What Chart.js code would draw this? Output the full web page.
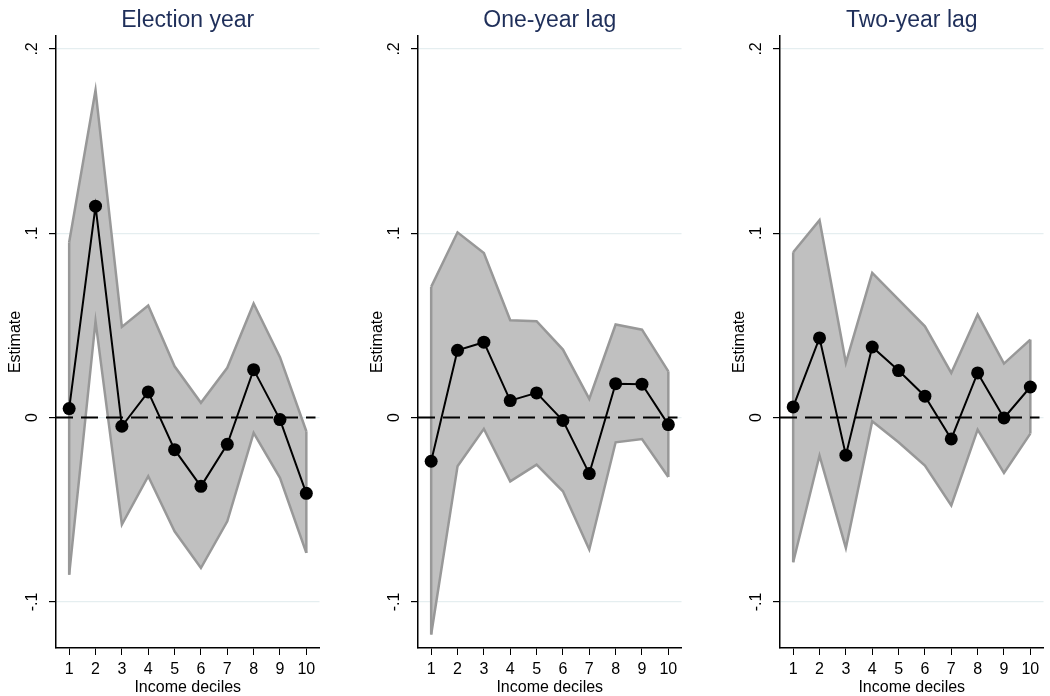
<!DOCTYPE html>
<html>
<head>
<meta charset="utf-8">
<script src="https://cdn.jsdelivr.net/npm/chart.js@4.4.1/dist/chart.umd.min.js"></script>
<style>
  html, body { margin: 0; padding: 0; background: #fff; }
  #wrap { position: relative; width: 1050px; height: 696px; overflow: hidden; }
  .panel { position: absolute; top: 0; width: 326px; height: 696px; }
</style>
</head>
<body>
<div id="wrap">
  <div class="panel" style="left:0px"><canvas id="c1"></canvas></div>
  <div class="panel" style="left:362px"><canvas id="c2"></canvas></div>
  <div class="panel" style="left:724px"><canvas id="c3"></canvas></div>
</div>
<script>
// income deciles on the x axis
var deciles = ['1', '2', '3', '4', '5', '6', '7', '8', '9', '10'];
var yTicks = [-0.1, 0, 0.1, 0.2];
var yTickLabels = ['-.1', '0', '.1', '.2'];
var titles = ['Election year', 'One-year lag', 'Two-year lag'];

// Election year
var est0 = [0.0049, 0.1147, -0.0047, 0.0139, -0.0174, -0.0373, -0.0145, 0.0260, -0.0011, -0.0411];
var upr0 = [0.0951, 0.1776, 0.0492, 0.0608, 0.0278, 0.0080, 0.0270, 0.0619, 0.0328, -0.0074];
var lwr0 = [-0.0852, 0.0523, -0.0580, -0.0318, -0.0617, -0.0816, -0.0563, -0.0083, -0.0327, -0.0734];

// One-year lag
var est1 = [-0.0237, 0.0365, 0.0409, 0.0092, 0.0134, -0.0016, -0.0304, 0.0184, 0.0181, -0.0038];
var upr1 = [0.0709, 0.1005, 0.0893, 0.0528, 0.0523, 0.0369, 0.0101, 0.0505, 0.0477, 0.0251];
var lwr1 = [-0.1177, -0.0264, -0.0061, -0.0346, -0.0255, -0.0400, -0.0716, -0.0134, -0.0116, -0.0322];

// Two-year lag
var est2 = [0.0058, 0.0432, -0.0204, 0.0383, 0.0255, 0.0116, -0.0116, 0.0242, -0.0002, 0.0166];
var upr2 = [0.0897, 0.1071, 0.0297, 0.0785, 0.0640, 0.0495, 0.0242, 0.0559, 0.0293, 0.0423];
var lwr2 = [-0.0785, -0.0206, -0.0707, -0.0020, -0.0134, -0.0260, -0.0477, -0.0065, -0.0300, -0.0087];

var FONT = '"Liberation Sans", Arial, sans-serif';
var BAND_LINE = '#989898';

// panel title, rotated y tick labels, band end caps and dashed zero line
var extras = {
  id: 'extras',
  afterDatasetDraw: function(chart, args){
    // once both band edges are down, close the band and add the zero line
    if (args.index !== 0) return;
    var ctx = chart.ctx, a = chart.chartArea, y = chart.scales.y;
    var up = chart.getDatasetMeta(0).data, lo = chart.getDatasetMeta(1).data;
    ctx.save();
    ctx.strokeStyle = BAND_LINE;
    ctx.lineWidth = 2.5;
    [0, up.length - 1].forEach(function(i){
      ctx.beginPath();
      ctx.moveTo(up[i].x, up[i].y);
      ctx.lineTo(lo[i].x, lo[i].y);
      ctx.stroke();
    });
    var y0 = y.getPixelForValue(0);
    ctx.strokeStyle = '#000';
    ctx.lineWidth = 2;
    ctx.setLineDash([17, 8]);
    ctx.beginPath();
    ctx.moveTo(a.left, y0);
    ctx.lineTo(a.right - 4, y0);
    ctx.stroke();
    ctx.restore();
  },
  afterDraw: function(chart){
    var ctx = chart.ctx, a = chart.chartArea, y = chart.scales.y;
    ctx.save();
    ctx.fillStyle = '#1f2f5a';
    ctx.font = '23px ' + FONT;
    ctx.textAlign = 'center';
    ctx.textBaseline = 'alphabetic';
    ctx.fillText(chart.options.plugins.extras.title, (a.left + a.right) / 2, 27);

    ctx.fillStyle = '#000';
    ctx.font = '16px ' + FONT;
    ctx.textBaseline = 'middle';
    yTicks.forEach(function(v, i){
      ctx.save();
      ctx.translate(a.left - 23, y.getPixelForValue(v));
      ctx.rotate(-Math.PI / 2);
      ctx.fillText(yTickLabels[i], 0, 0);
      ctx.restore();
    });
    ctx.restore();
  }
};

function makePanel(id, title, est, upr, lwr){
  var canvas = document.getElementById(id);
  return new Chart(canvas.getContext('2d'), {
    type: 'line',
    data: {
      labels: deciles,
      datasets: [
        { data: upr, borderColor: BAND_LINE, borderWidth: 2.5, backgroundColor: '#c0c0c0',
          fill: '+1', pointRadius: 0, tension: 0, order: 2 },
        { data: lwr, borderColor: BAND_LINE, borderWidth: 2.5, backgroundColor: '#c0c0c0',
          fill: false, pointRadius: 0, tension: 0, order: 2 },
        { data: est, borderColor: '#000', borderWidth: 2, backgroundColor: '#000',
          pointRadius: 6.5, pointBackgroundColor: '#000', pointBorderWidth: 0,
          fill: false, tension: 0, order: 1 }
      ]
    },
    options: {
      responsive: false,
      animation: false,
      layout: { padding: { top: 36, right: 4, left: 0, bottom: 0 } },
      plugins: {
        legend: { display: false },
        tooltip: { enabled: false },
        filler: { drawTime: 'beforeDatasetsDraw' },
        extras: { title: title }
      },
      scales: {
        x: {
          type: 'category',
          offset: true,
          grid: { drawOnChartArea: false, drawTicks: true, tickLength: 7, tickColor: '#000', offset: false },
          border: { color: '#000', width: 1.5 },
          ticks: { color: '#000', font: { size: 16, family: FONT }, padding: 5, maxRotation: 0 },
          title: { display: true, text: 'Income deciles', color: '#000',
                   font: { size: 16, family: FONT, lineHeight: 1 }, padding: { top: 0, bottom: 0 } },
          afterFit: function(s){ s.height = 48; }
        },
        y: {
          min: -0.125,
          max: 0.207,
          afterBuildTicks: function(s){ s.ticks = yTicks.map(function(v){ return { value: v }; }); },
          grid: { color: '#e5eef0', lineWidth: 1.2, tickLength: 7, tickColor: '#000' },
          border: { color: '#000', width: 1.5 },
          ticks: { display: false },
          title: { display: true, text: 'Estimate', color: '#000',
                   font: { size: 16, family: FONT, lineHeight: 1.2 }, padding: { top: 6, bottom: 0 } },
          afterFit: function(s){ s.width = 56; }
        }
      }
    },
    plugins: [extras]
  });
}

function setup(c){ c.width = 326; c.height = 696; }
['c1', 'c2', 'c3'].forEach(function(id){ setup(document.getElementById(id)); });

makePanel('c1', titles[0], est0, upr0, lwr0);
makePanel('c2', titles[1], est1, upr1, lwr1);
makePanel('c3', titles[2], est2, upr2, lwr2);
</script>
</body>
</html>
